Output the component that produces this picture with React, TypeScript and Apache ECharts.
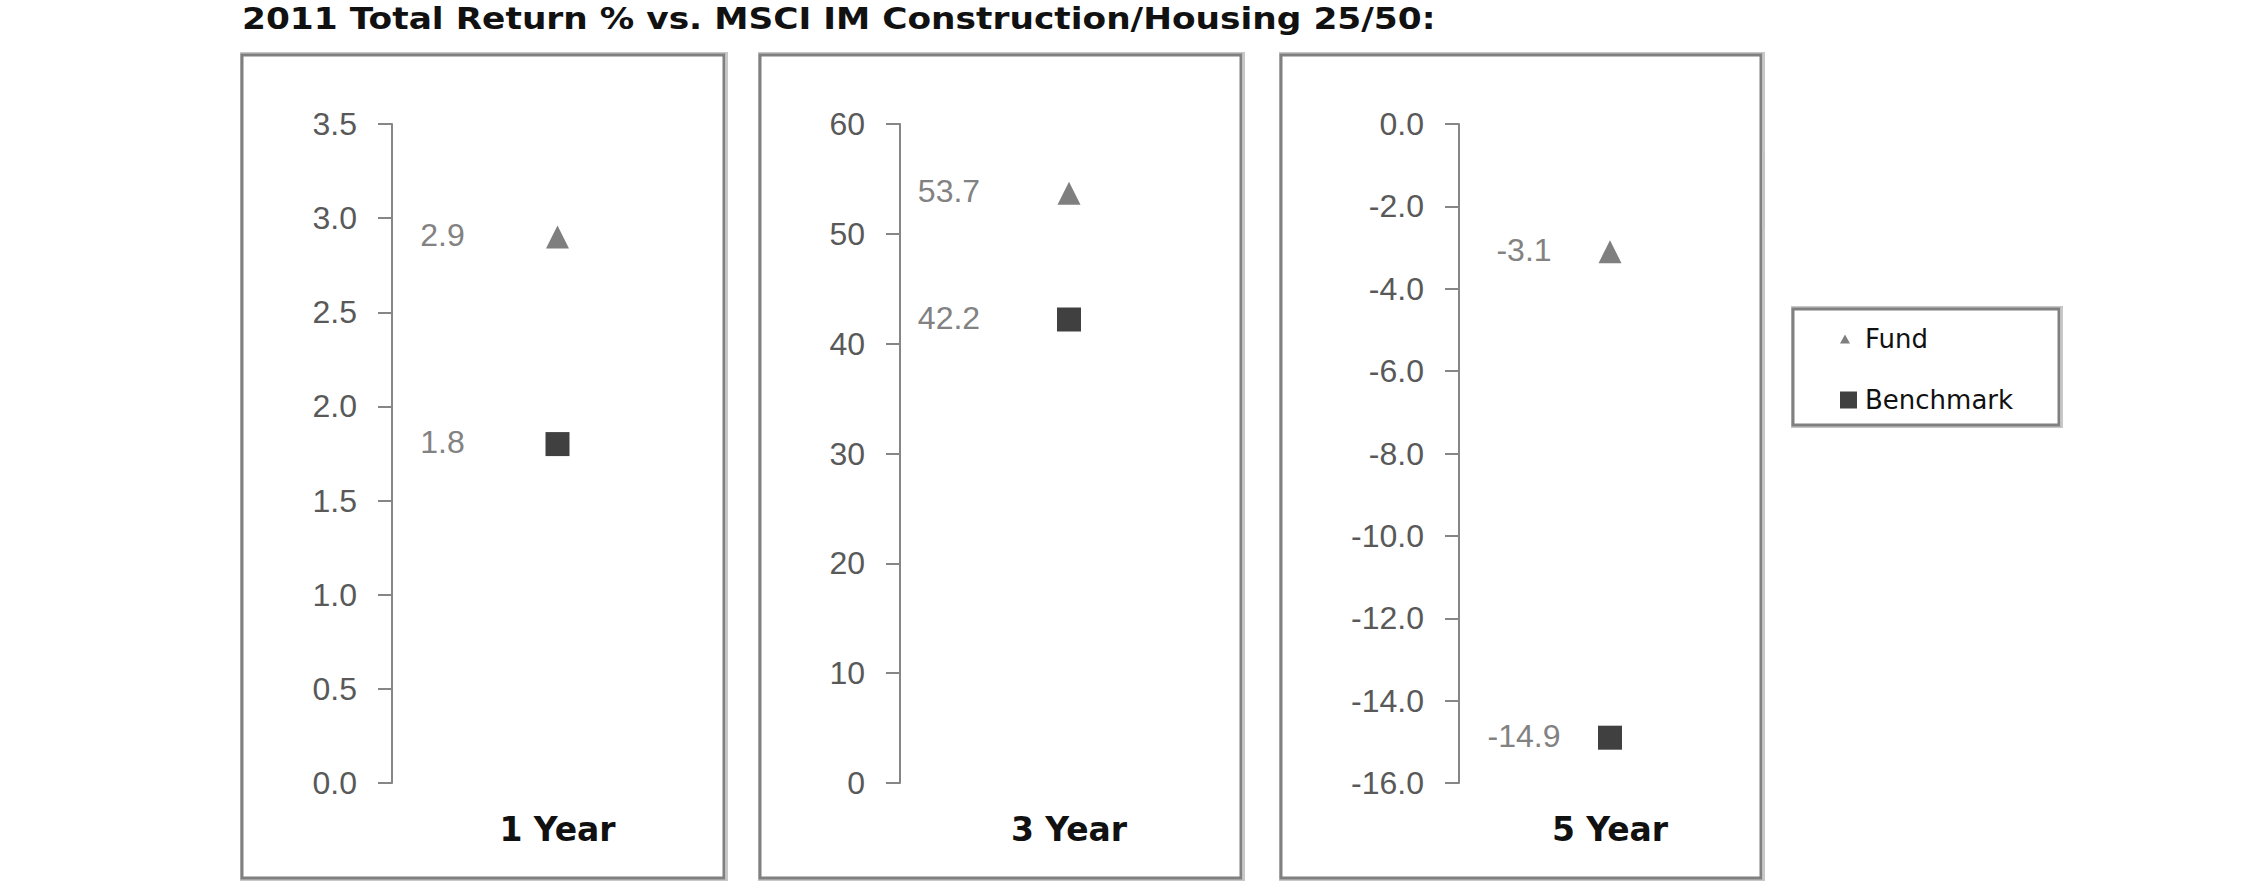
import React, { useEffect, useRef } from 'react';
import * as echarts from 'echarts';

// ---- data ----
const periods = ['1 Year', '3 Year', '5 Year'];
const fundValues = [2.9, 53.7, -3.1];
const benchmarkValues = [1.8, 42.2, -14.9];
const axisMin = [0, 0, -16];
const axisMax = [3.5, 60, 0];
const axisInterval = [0.5, 10, 2];
const axisDecimals = [1, 0, 1];
const seriesNames = ['Fund', 'Benchmark'];
const titleText = '2011 Total Return % vs. MSCI IM Construction/Housing 25/50:';

// ---- layout ----
const gridLeft = [392, 900, 1459];
const gridRight = [723, 1238, 1761];
const gridTop = 124;
const gridBottom = 783;
const labelOffsetX = [-115, -120, -86];
const boxes = [
  [242, 55, 724, 878],
  [760, 55, 1241, 878],
  [1281, 55, 1761, 878],
  [1793, 309, 2059, 425],
];

const numFont = '"Liberation Sans", Arial, sans-serif';
const boldFont = '"DejaVu Sans", Verdana, sans-serif';

function buildOption() {
  const grids = periods.map((_, i) => ({
    left: gridLeft[i],
    width: gridRight[i] - gridLeft[i],
    top: gridTop,
    height: gridBottom - gridTop,
  }));
  const xAxes = periods.map((p, i) => ({
    type: 'category',
    gridIndex: i,
    data: [p],
    axisLine: { show: false },
    axisTick: { show: false },
    splitLine: { show: false },
    axisLabel: {
      fontFamily: boldFont,
      fontWeight: 'bold',
      fontSize: 33,
      color: '#111',
      margin: 30,
    },
  }));
  const yAxes = periods.map((_, i) => ({
    type: 'value',
    gridIndex: i,
    min: axisMin[i],
    max: axisMax[i],
    interval: axisInterval[i],
    splitLine: { show: false },
    axisLine: { show: true, lineStyle: { color: '#868686', width: 2 } },
    axisTick: { show: true, length: 14, inside: false, lineStyle: { color: '#868686', width: 2 } },
    axisLabel: {
      margin: 35,
      fontFamily: numFont,
      fontSize: 32,
      color: '#595959',
      formatter: (v: number) => v.toFixed(axisDecimals[i]),
    },
  }));
  const series: any[] = [];
  periods.forEach((p, i) => {
    const mk = (name: string, val: number, symbol: string, size: number, color: string) => ({
      type: 'scatter',
      name,
      xAxisIndex: i,
      yAxisIndex: i,
      data: [[p, val]],
      symbol,
      symbolSize: size,
      itemStyle: { color, opacity: 1 },
      label: {
        show: true,
        position: 'inside',
        offset: [labelOffsetX[i], -2],
        formatter: (pp: any) => pp.value[1].toFixed(1),
        fontFamily: numFont,
        fontSize: 32,
        color: '#828282',
      },
    });
    series.push(mk(seriesNames[0], fundValues[i], 'triangle', 23, '#7f7f7f'));
    series.push(mk(seriesNames[1], benchmarkValues[i], 'rect', 24, '#404040'));
  });

  const graphics: any[] = [];
  boxes.forEach(([x1, y1, x2, y2]) => {
    graphics.push({
      type: 'rect',
      silent: true,
      shape: { x: x1 - 1, y: y1 - 2, width: x2 - x1 + 4, height: y2 - y1 + 4 },
      style: { fill: 'none', stroke: '#c8c8c8', lineWidth: 2 },
    });
    graphics.push({
      type: 'rect',
      silent: true,
      shape: { x: x1, y: y1, width: x2 - x1, height: y2 - y1 },
      style: { fill: 'none', stroke: '#808080', lineWidth: 3 },
    });
  });
  graphics.push({
    type: 'rect',
    silent: true,
    shape: { x: 1762, y: 152, width: 3, height: 76 },
    style: { fill: '#c4c4c4' },
  });
  graphics.push({
    type: 'text',
    x: 242,
    y: 19,
    scaleX: 1.11,
    style: {
      text: titleText,
      fontFamily: boldFont,
      fontWeight: 'bold',
      fontSize: 31,
      fill: '#111',
      align: 'left',
      verticalAlign: 'middle',
    },
  });

  return {
    animation: false,
    backgroundColor: '#ffffff',
    grid: grids,
    xAxis: xAxes,
    yAxis: yAxes,
    legend: {
      orient: 'vertical',
      left: 1835,
      top: 321,
      itemWidth: 17,
      itemHeight: 17,
      itemGap: 35,
      selectedMode: false,
      data: [
        { name: seriesNames[0], icon: 'path://M0,0M17,17M0,13L5,4L10,13Z' },
        { name: seriesNames[1], icon: 'rect' },
      ],
      textStyle: {
        fontFamily: boldFont,
        fontSize: 26,
        color: '#111',
        padding: [0, 0, 0, 3],
      },
    },
    graphic: graphics,
    series,
  };
}

export default function App() {
  const ref = useRef<HTMLDivElement>(null);
  useEffect(() => {
    if (!ref.current) return;
    const chart = echarts.init(ref.current, undefined, { renderer: 'svg' });
    chart.setOption(buildOption() as any);
    return () => chart.dispose();
  }, []);
  return (
    <div
      ref={ref}
      style={{ position: 'fixed', left: 0, top: 0, width: 2250, height: 895, background: '#fff' }}
    />
  );
}
